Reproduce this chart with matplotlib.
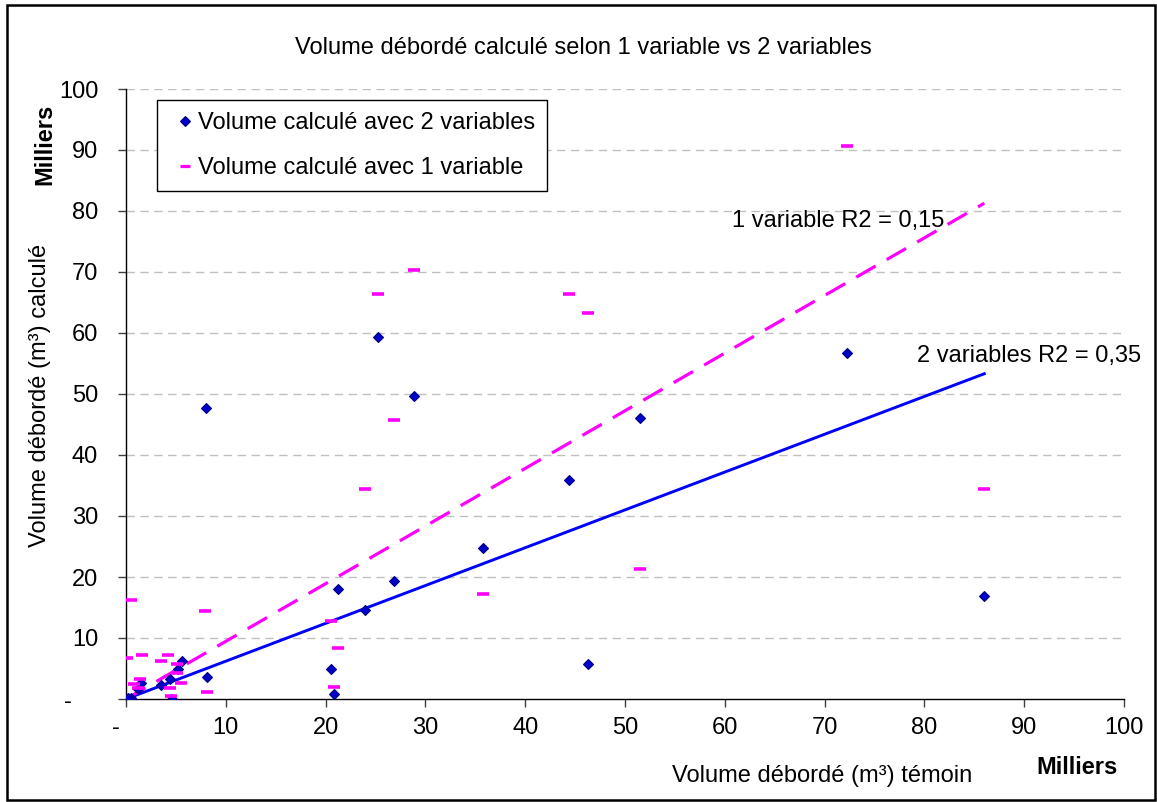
import matplotlib
matplotlib.use("Agg")
import matplotlib.pyplot as plt
from matplotlib.patches import Rectangle
from matplotlib.lines import Line2D
import numpy as np

plt.rcParams['font.family'] = ['Liberation Sans', 'DejaVu Sans']

# Data (thousands of m3)
x_2var = [8.0, 25.3, 28.9, 44.4, 51.5, 72.2, 86.0, 35.8, 26.9, 21.2, 23.9, 46.3,
          20.5, 20.8, 8.1, 5.6, 5.2, 4.4, 3.5, 4.6, 1.5, 1.2, 0.3, 0.5, 0.2]
y_2var = [47.7, 59.4, 49.6, 35.9, 46.0, 56.7, 16.9, 24.8, 19.4, 18.1, 14.6, 5.8,
          4.9, 0.9, 3.6, 6.3, 4.9, 3.2, 2.3, 0.0, 2.7, 1.6, 0.0, 0.1, 0.2]

x_1var = [72.2, 28.9, 25.3, 44.4, 46.3, 26.9, 23.9, 86.0, 51.5, 35.8, 20.5, 21.2,
          20.8, 7.9, 8.1, 0.5, 0.1, 1.6, 3.5, 4.2, 5.1, 5.1, 5.5, 4.4, 4.5, 1.4, 0.8, 1.2]
y_1var = [90.7, 70.4, 66.4, 66.4, 63.2, 45.7, 34.4, 34.4, 21.3, 17.2, 12.8, 8.4,
          2.0, 14.4, 1.2, 16.2, 6.7, 7.2, 6.2, 7.2, 5.7, 4.2, 2.7, 1.8, 0.5, 3.3, 2.5, 1.8]

slope_2var = 0.62
slope_1var = 0.945
label_2var = "2 variables R2 = 0,35"
label_1var = "1 variable R2 = 0,15"

title = "Volume débordé calculé selon 1 variable vs 2 variables"
xlabel = "Volume débordé (m³) témoin"
ylabel = "Volume débordé (m³) calculé"
unit = "Milliers"
ticks = [0, 10, 20, 30, 40, 50, 60, 70, 80, 90, 100]

W, H = 1157, 802
fig = plt.figure(figsize=(W / 100, H / 100), dpi=100)

def fx(px):
    return px / W

def fy(py):
    return 1 - py / H

FS = 17

ax = fig.add_axes([fx(126), fy(699), fx(1124) - fx(126), fy(89) - fy(699)])
ax.set_xlim(0, 100)
ax.set_ylim(0, 100)

for y in ticks[1:]:
    ax.axhline(y, color='#c0c0c0', lw=1.0, ls=(0, (6, 4)), zorder=0)

# trendlines
xmax = max(x_2var + x_1var)
xs = np.array([0.0, xmax])
ax.plot(xs, slope_2var * xs, color='#0000FF', lw=2.1, zorder=2)
ax.plot(xs, slope_1var * xs, color='#FF00FF', lw=2.3, ls=(0, (7, 4)), zorder=2)

ax.plot(x_2var, y_2var, ls='none', marker='D', ms=5.4, mfc='#0000CC',
        mec='#000080', mew=0.8, zorder=3)
ax.plot(x_1var, y_1var, ls='none', marker='_', ms=8.5, mec='#FF00FF',
        mew=2.6, zorder=3)

ax.text(60.7, 78.3, label_1var, fontsize=FS, va='center', ha='left')
ax.text(79.3, 56.2, label_2var, fontsize=FS, va='center', ha='left')

ax.set_xticks(ticks)
ax.set_yticks(ticks)
ax.set_xticklabels(["-   "] + [str(t) for t in ticks[1:]])
ax.set_yticklabels(["-    "] + [str(t) for t in ticks[1:]])
ax.tick_params(axis='both', direction='out', length=6, width=1, color='#404040',
               labelsize=FS)
ax.tick_params(axis='x', pad=7)
ax.tick_params(axis='y', pad=14)
for s in ['top', 'right']:
    ax.spines[s].set_visible(False)
for s in ['left', 'bottom']:
    ax.spines[s].set_linewidth(1.0)
    ax.spines[s].set_color('black')

handles = [
    Line2D([], [], ls='none', marker='D', ms=4.6, mfc='#0000CC', mec='#000080', mew=0.8),
    Line2D([], [], ls='none', marker='_', ms=7.0, mec='#FF00FF', mew=2.3),
]
leg = fig.legend(handles, ["Volume calculé avec 2 variables", "Volume calculé avec 1 variable"],
                 loc='upper left', bbox_to_anchor=(fx(157), fy(100)), fontsize=FS,
                 frameon=True, fancybox=False, framealpha=1, edgecolor='black',
                 handlelength=1.36, handletextpad=-0.13, borderpad=0.5, labelspacing=1.0,
                 borderaxespad=0)
leg.get_frame().set_linewidth(1.0)

fig.text(fx(583), fy(48), title, fontsize=FS, ha='center', va='center')
fig.text(fx(822), fy(776), xlabel, fontsize=FS, ha='center', va='center')
fig.text(fx(1077), fy(767), unit, fontsize=FS, fontweight='bold', ha='center', va='center')
fig.text(fx(40), fy(395), ylabel, fontsize=FS, rotation=90, ha='center', va='center')
fig.text(fx(45), fy(144), unit, fontsize=FS, fontweight='bold', rotation=90, ha='center', va='center')

fig.patches.append(Rectangle((fx(7), fy(800)), fx(1155) - fx(7), fy(5) - fy(800),
                             transform=fig.transFigure, fill=False, ec='black', lw=1.8))

fig.savefig("out.png", dpi=100)
